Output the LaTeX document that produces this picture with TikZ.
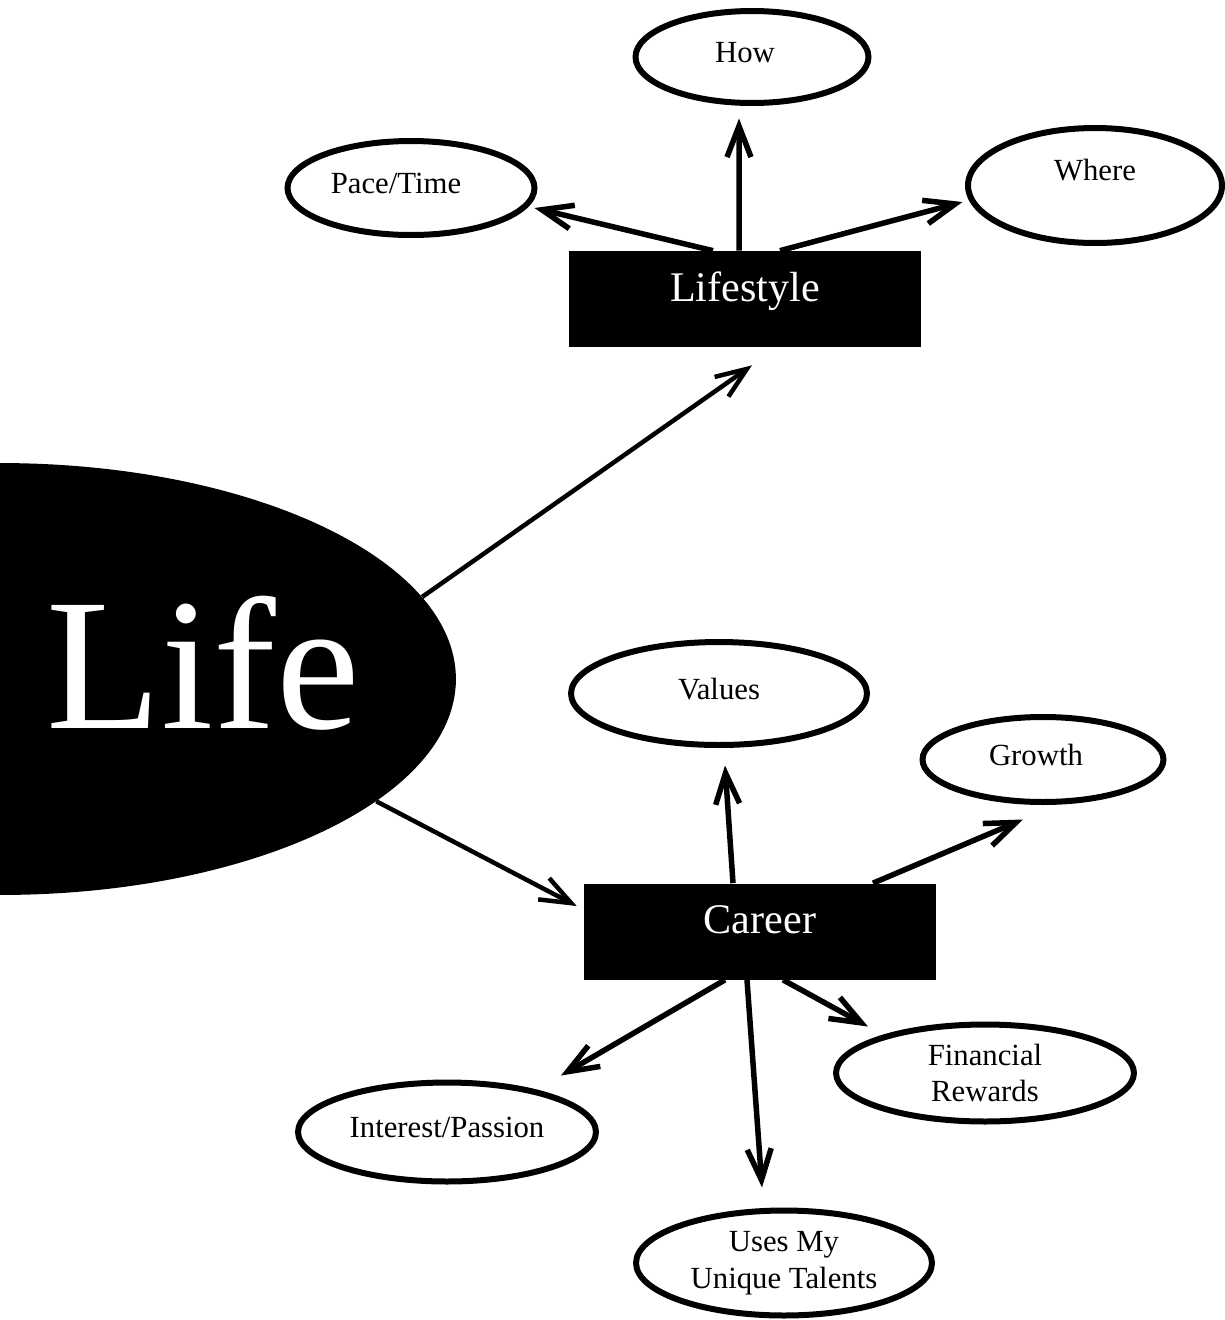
\documentclass[tikz,border=0pt]{standalone}
\usepackage{fontspec}
\setmainfont{Liberation Serif}
\usetikzlibrary{shapes.geometric,arrows.meta}

\begin{document}
\begin{tikzpicture}[x=0.02cm,y=-0.02cm]
	
	% 定义样式
	\tikzset{
		topic/.style={ellipse, draw, line width=0.12cm, fill=white, inner sep=0pt, font=\fontsize{17.5pt}{21pt}\selectfont}, % 子主题椭圆
		single/.style={text height=0.42cm, text depth=0.2cm}, % 单行文字的高度
		hub/.style={rectangle, fill=black, text=white, inner sep=0pt, minimum width=7.04cm, minimum height=1.92cm, font=\fontsize{24pt}{28pt}\selectfont, text height=0.5cm, text depth=0.42cm}, % 黑色主题框
		link/.style={line width=0.11cm, -{Straight Barb[length=0.62cm,width=0.48cm]}} % 带箭头的连线
	}
	
	% 画布范围
	\useasboundingbox (0,0) rectangle (1225,1320);
	\clip (0,0) rectangle (1225,1320);
	
	% 绘制中心椭圆 Life
	\node[ellipse, fill=black, minimum width=18.24cm, minimum height=8.64cm, inner sep=0pt] (life) at (0,679) {};
	\node[anchor=base, text=white, inner sep=0pt, font=\fontsize{107pt}{107pt}\selectfont] (lifeText) at (203,728) {Life};
	
	% 绘制两个主题框
	\node[hub] (lifestyle) at (745,299) {Lifestyle};
	\node[hub] (career) at (760,931.5) {Career};
	
	% Lifestyle 的子主题 (\kern 让文字略偏左)
	\node[topic, single, minimum width=4.66cm, minimum height=1.84cm] (how) at (752,57) {How\kern0.28cm};
	\node[topic, single, minimum width=4.94cm, minimum height=1.88cm] (pace) at (411,188) {Pace/Time\kern0.6cm};
	\node[topic, single, text depth=0.64cm, minimum width=5.08cm, minimum height=2.30cm] (where) at (1095,185.5) {Where};
	
	% Career 的子主题
	\node[topic, single, minimum width=5.92cm, minimum height=2.06cm] (values) at (719,693.5) {Values};
	\node[topic, single, minimum width=4.82cm, minimum height=1.70cm] (growth) at (1043,759.5) {Growth\kern0.28cm};
	\node[topic, align=center, minimum width=5.96cm, minimum height=1.94cm] (financial) at (985,1073) {Financial\\Rewards};
	\node[topic, single, minimum width=5.96cm, minimum height=1.98cm] (interest) at (447,1132) {Interest/Passion};
	\node[topic, align=center, minimum width=5.92cm, minimum height=2.10cm] (uses) at (784,1263) {Uses My\\Unique Talents};
	
	% 从 Life 出发的连线
	\draw[link, line width=0.09cm] (life.11) -- ([xshift=0.14cm,yshift=-0.36cm]lifestyle.south);
	\draw[link, line width=0.09cm] (life.-18.4) -- ([xshift=-0.14cm,yshift=0.51cm]career.west);
	
	% 从 Lifestyle 出发的连线
	\draw[link] ([xshift=-0.64cm]lifestyle.north) -- ([xshift=-0.06cm,yshift=-0.4cm]pace.east);
	\draw[link] ([xshift=-0.12cm]lifestyle.north) -- ([xshift=-0.26cm,yshift=-0.25cm]how.south);
	\draw[link] ([xshift=0.7cm]lifestyle.north) -- ([xshift=-0.05cm,yshift=-0.33cm]where.west);
	
	% 从 Career 出发的连线
	\draw[link] ([xshift=-0.54cm]career.north) -- ([xshift=0.12cm,yshift=-0.35cm]values.south);
	\draw[link] ([xshift=2.26cm]career.north) -- ([xshift=-0.4cm,yshift=-0.29cm]growth.south);
	\draw[link] ([xshift=0.46cm]career.south) -- ([xshift=-2.34cm,yshift=-0.1cm]financial.north);
	\draw[link] ([xshift=-0.7cm]career.south) -- ([xshift=2.28cm,yshift=0.08cm]interest.north);
	\draw[link] ([xshift=-0.26cm]career.south) -- ([xshift=-0.44cm,yshift=0.4cm]uses.north);
	
\end{tikzpicture}
\end{document}
